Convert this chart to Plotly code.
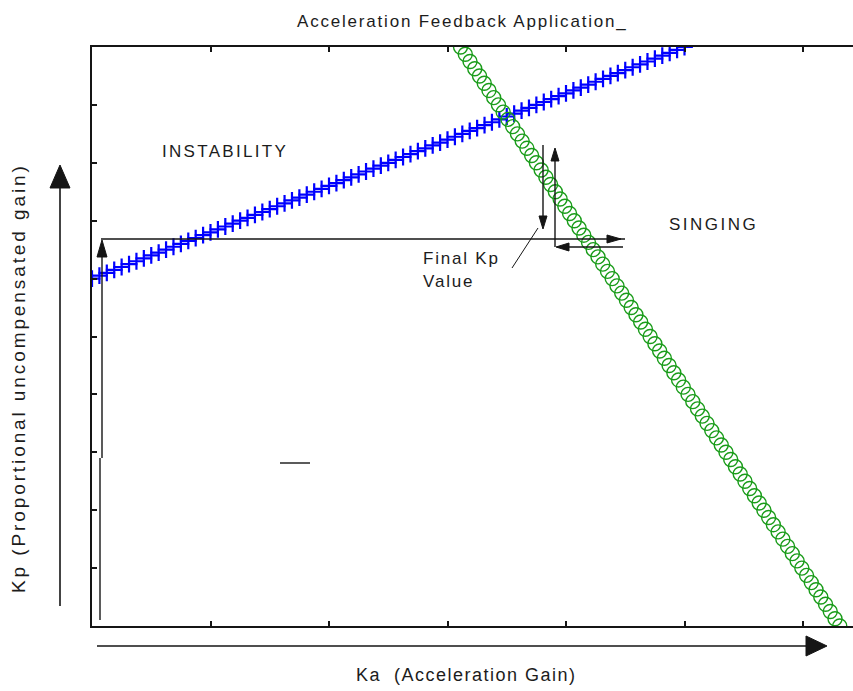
import plotly.graph_objects as go

# ---- data ----
blue_x = [0.0000, 0.0625, 0.1250, 0.1875, 0.2500, 0.3125, 0.3750, 0.4375, 0.5000, 0.5625,
          0.6250, 0.6875, 0.7500, 0.8125, 0.8750, 0.9375, 1.0000, 1.0625, 1.1250, 1.1875,
          1.2500, 1.3125, 1.3750, 1.4375, 1.5000, 1.5625, 1.6250, 1.6875, 1.7500, 1.8125,
          1.8750, 1.9375, 2.0000, 2.0625, 2.1250, 2.1875, 2.2500, 2.3125, 2.3750, 2.4375,
          2.5000, 2.5625, 2.6250, 2.6875, 2.7500, 2.8125, 2.8750, 2.9375, 3.0000, 3.0625,
          3.1250, 3.1875, 3.2500, 3.3125, 3.3750, 3.4375, 3.5000, 3.5625, 3.6250, 3.6875,
          3.7500, 3.8125, 3.8750, 3.9375, 4.0000, 4.0625, 4.1250, 4.1875, 4.2500, 4.3125,
          4.3750, 4.4375, 4.5000, 4.5625, 4.6250, 4.6875, 4.7500, 4.8125, 4.8750, 4.9375,
          5.0000]
blue_y = [6.00, 6.05, 6.10, 6.15, 6.20, 6.25, 6.30, 6.35, 6.40, 6.45,
          6.50, 6.55, 6.60, 6.65, 6.70, 6.75, 6.80, 6.85, 6.90, 6.95,
          7.00, 7.05, 7.10, 7.15, 7.20, 7.25, 7.30, 7.35, 7.40, 7.45,
          7.50, 7.55, 7.60, 7.65, 7.70, 7.75, 7.80, 7.85, 7.90, 7.95,
          8.00, 8.05, 8.10, 8.15, 8.20, 8.25, 8.30, 8.35, 8.40, 8.45,
          8.50, 8.55, 8.60, 8.65, 8.70, 8.75, 8.80, 8.85, 8.90, 8.95,
          9.00, 9.05, 9.10, 9.15, 9.20, 9.25, 9.30, 9.35, 9.40, 9.45,
          9.50, 9.55, 9.60, 9.65, 9.70, 9.75, 9.80, 9.85, 9.90, 9.95,
          10.00]

green_x = [3.11, 3.15, 3.19, 3.23, 3.27, 3.31, 3.35, 3.39, 3.43, 3.47,
           3.51, 3.55, 3.59, 3.63, 3.67, 3.71, 3.75, 3.79, 3.83, 3.87,
           3.91, 3.95, 3.99, 4.03, 4.07, 4.11, 4.15, 4.19, 4.23, 4.27,
           4.31, 4.35, 4.39, 4.43, 4.47, 4.51, 4.55, 4.59, 4.63, 4.67,
           4.71, 4.75, 4.79, 4.83, 4.87, 4.91, 4.95, 4.99, 5.03, 5.07,
           5.11, 5.15, 5.19, 5.23, 5.27, 5.31, 5.35, 5.39, 5.43, 5.47,
           5.51, 5.55, 5.59, 5.63, 5.67, 5.71, 5.75, 5.79, 5.83, 5.87,
           5.91, 5.95, 5.99, 6.03, 6.07, 6.11, 6.15, 6.19, 6.23, 6.27,
           6.31]
green_y = [10.0, 9.875, 9.75, 9.625, 9.5, 9.375, 9.25, 9.125,
           9.0, 8.875, 8.75, 8.625, 8.5, 8.375, 8.25, 8.125,
           8.0, 7.875, 7.75, 7.625, 7.5, 7.375, 7.25, 7.125,
           7.0, 6.875, 6.75, 6.625, 6.5, 6.375, 6.25, 6.125,
           6.0, 5.875, 5.75, 5.625, 5.5, 5.375, 5.25, 5.125,
           5.0, 4.875, 4.75, 4.625, 4.5, 4.375, 4.25, 4.125,
           4.0, 3.875, 3.75, 3.625, 3.5, 3.375, 3.25, 3.125,
           3.0, 2.875, 2.75, 2.625, 2.5, 2.375, 2.25, 2.125,
           2.0, 1.875, 1.75, 1.625, 1.5, 1.375, 1.25, 1.125,
           1.0, 0.875, 0.75, 0.625, 0.5, 0.375, 0.25, 0.125,
           0.0]

title_text = "Acceleration Feedback Application_"
x_label = "Ka  (Acceleration Gain)"
y_label = "Kp (Proportional uncompensated gain)"
region_labels = ["INSTABILITY", "SINGING"]
final_label = ["Final Kp", "Value"]

# ---- layout geometry (pixels of the 853x691 page) ----
W, H = 853, 691
L, R, T, B = 92, 853, 47, 626
PW, PH = R - L, B - T


def px(X):
    return (X - L) / PW


def py(Y):
    return (B - Y) / PH


INK = "#151515"
FONT = "Liberation Sans, Arial, sans-serif"

fig = go.Figure()
fig.add_trace(go.Scatter(
    x=blue_x, y=blue_y, mode="markers",
    marker=dict(symbol="cross-thin", size=12, color="#0000ff",
                line=dict(color="#0000ff", width=2.2)),
    hoverinfo="skip"))
fig.add_trace(go.Scatter(
    x=green_x, y=green_y, mode="markers",
    marker=dict(symbol="circle-open", size=14, color="#1a9c1a",
                line=dict(color="#1a9c1a", width=1.4)),
    hoverinfo="skip"))

shapes = []


def seg(x0, y0, x1, y1, w=1.4):
    shapes.append(dict(type="line", xref="paper", yref="paper",
                       x0=px(x0), y0=py(y0), x1=px(x1), y1=py(y1),
                       line=dict(color=INK, width=w)))


def tri(pts):
    d = "M " + " L ".join(f"{px(a):.5f},{py(b):.5f}" for a, b in pts) + " Z"
    shapes.append(dict(type="path", xref="paper", yref="paper", path=d,
                       fillcolor=INK, line=dict(color=INK, width=1)))


# Y axis arrow (outside plot)
seg(60, 606, 60, 185, 1.6)
tri([(60, 165), (50, 188), (70, 188)])
# X axis arrow (below plot)
seg(97, 646, 808, 646, 1.6)
tri([(827, 646), (806, 636), (806, 656)])

# Final Kp construction
seg(102, 252, 102, 458)
seg(100, 458, 100, 620)
tri([(102, 240), (97, 257), (107, 257)])
seg(101, 239, 625, 239)
tri([(621, 239), (607, 235), (607, 243)])
seg(512, 268, 538, 228, 1.0)
# down arrow
seg(543, 145, 543, 220)
tri([(543, 229), (539, 216), (547, 216)])
# up arrow
seg(555, 247, 555, 158)
tri([(555, 148), (551, 161), (559, 161)])
# lower horizontal with left arrow
seg(557, 247, 623, 247)
tri([(556, 247), (569, 243), (569, 251)])
# small dash
seg(280, 463, 310, 463, 1.4)

annotations = []


def label(text, X, Y, size, spacing, xanchor="center", angle=0):
    annotations.append(dict(
        xref="paper", yref="paper", x=px(X), y=py(Y), showarrow=False,
        text=f'<span style="letter-spacing:{spacing}px">{text}</span>',
        xanchor=xanchor, yanchor="middle", textangle=angle,
        font=dict(family=FONT, size=size, color="#1c1c1c")))


label(title_text, 462, 22, 17, 1.8)
label(x_label, 466, 675, 18, 1.5)
label(y_label, 18, 378, 19, 2.9, angle=-90)
label(region_labels[0], 225, 151, 17, 2.3)
label(region_labels[1], 713, 225, 17, 2.5)
label(final_label[0], 421, 258, 17, 1.8, xanchor="left")
label(final_label[1], 421, 281, 17, 1.8, xanchor="left")

fig.update_layout(
    width=W, height=H,
    margin=dict(l=L, r=W - R, t=T, b=H - B, pad=0),
    paper_bgcolor="white", plot_bgcolor="white",
    showlegend=False,
    shapes=shapes, annotations=annotations,
    xaxis=dict(range=[0, PW / 118.5], dtick=1, tick0=0, ticks="inside",
               ticklen=5, tickwidth=1.5, tickcolor=INK,
               showticklabels=False, showgrid=False, zeroline=False,
               showline=True, linecolor=INK, linewidth=2, mirror="ticks",
               fixedrange=True),
    yaxis=dict(range=[0, 10], dtick=1, tick0=0, ticks="inside",
               ticklen=5, tickwidth=1.5, tickcolor=INK,
               showticklabels=False, showgrid=False, zeroline=False,
               showline=True, linecolor=INK, linewidth=2, mirror=False,
               fixedrange=True),
)

fig.write_html(
    "out.html",
    config={"displayModeBar": False},
    post_script="document.body.style.margin='0';"
                "document.body.style.overflow='hidden';",
)
